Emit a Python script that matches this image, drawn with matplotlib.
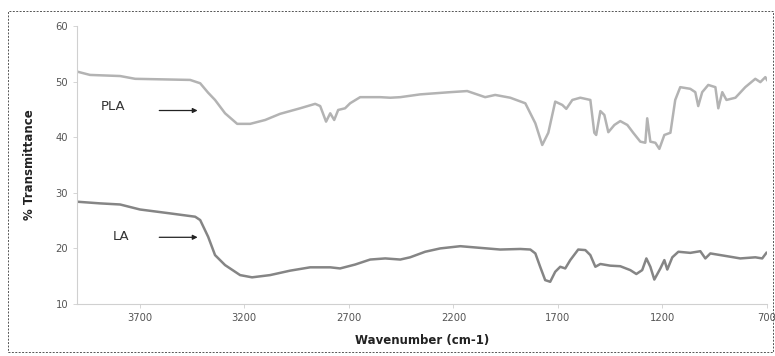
import matplotlib.pyplot as plt
from matplotlib.patches import Rectangle

# FTIR spectra (wavenumber in cm-1, % transmittance)
pla_wn = [4000, 3938, 3794, 3722, 3459, 3411, 3373, 3340, 3292, 3234, 3172, 3100,
          3029, 2933, 2861, 2837, 2809, 2789, 2770, 2751, 2718, 2694, 2646, 2550,
          2502, 2454, 2359, 2215, 2134, 2048, 2000, 1928, 1856, 1808, 1775, 1746,
          1713, 1679, 1660, 1631, 1593, 1545, 1526, 1517, 1497, 1478, 1459, 1430,
          1402, 1368, 1340, 1306, 1282, 1273, 1258, 1234, 1215, 1191, 1162, 1139,
          1115, 1067, 1043, 1029, 1010, 981, 947, 933, 914, 894, 851, 804, 756,
          732, 708, 700]
pla_t = [51.8, 51.2, 51.0, 50.5, 50.3, 49.7, 48.0, 46.7, 44.3, 42.4, 42.4, 43.1,
         44.2, 45.2, 46.0, 45.6, 42.8, 44.3, 43.1, 44.9, 45.2, 46.1, 47.2, 47.2,
         47.1, 47.2, 47.7, 48.1, 48.3, 47.2, 47.6, 47.1, 46.1, 42.5, 38.6, 40.8,
         46.4, 45.8, 45.1, 46.7, 47.1, 46.7, 40.8, 40.4, 44.7, 44.0, 40.9, 42.2,
         42.9, 42.2, 40.8, 39.2, 39.0, 43.4, 39.2, 39.0, 37.9, 40.4, 40.8, 46.7,
         49.0, 48.7, 48.1, 45.6, 48.1, 49.4, 49.0, 45.2, 48.1, 46.7, 47.1, 49.0, 50.5,
         49.9, 50.8, 50.3]

la_wn = [4000, 3890, 3794, 3699, 3555, 3435, 3411, 3373, 3340, 3292, 3220, 3163,
         3077, 2981, 2885, 2789, 2742, 2670, 2598, 2526, 2454, 2407, 2335, 2263,
         2167, 2072, 1976, 1880, 1832, 1808, 1785, 1761, 1737, 1713, 1689, 1665,
         1641, 1603, 1569, 1545, 1521, 1497, 1450, 1402, 1354, 1325, 1297, 1277,
         1258, 1239, 1210, 1191, 1177, 1153, 1124, 1067, 1019, 995, 971, 923, 875,
         828, 756, 723, 703]
la_t = [28.4, 28.1, 27.9, 27.0, 26.3, 25.7, 25.1, 22.1, 18.8, 17.0, 15.2, 14.8,
        15.2, 16.0, 16.6, 16.6, 16.4, 17.1, 18.0, 18.2, 18.0, 18.4, 19.4, 20.0,
        20.4, 20.1, 19.8, 19.9, 19.8, 19.1, 16.7, 14.3, 14.0, 15.8, 16.7, 16.4,
        17.9, 19.8, 19.7, 18.8, 16.7, 17.2, 16.9, 16.8, 16.1, 15.4, 16.1, 18.2,
        16.7, 14.4, 16.4, 17.9, 16.2, 18.4, 19.4, 19.2, 19.5, 18.2, 19.1, 18.8,
        18.5, 18.2, 18.4, 18.2, 19.2]

x_ticks = [3700, 3200, 2700, 2200, 1700, 1200, 700]
y_ticks = [10, 20, 30, 40, 50, 60]

fig = plt.figure(figsize=(7.75, 3.56), dpi=100)
ax = fig.add_axes([0.0994, 0.146, 0.8903, 0.781])

ax.plot(pla_wn, pla_t, color='#b3b3b3', linewidth=1.8)
ax.plot(la_wn, la_t, color='#858585', linewidth=1.8)

ax.set_xlim(4000, 700)
ax.set_ylim(10, 60)
ax.set_xticks(x_ticks)
ax.set_yticks(y_ticks)
ax.tick_params(labelsize=7.2, colors='#cfcfcf', labelcolor='#555555', length=3, width=0.6)

for side in ['top', 'right']:
    ax.spines[side].set_visible(False)
for side in ['left', 'bottom']:
    ax.spines[side].set_color('#d0d0d0')
    ax.spines[side].set_linewidth(0.8)

ax.set_xlabel('Wavenumber (cm-1)', fontsize=8.5, fontweight='bold', color='#222222', labelpad=8)
ax.set_ylabel('% Transmittance', fontsize=8.5, fontweight='bold', color='#222222', labelpad=14)

# labels with arrows
ax.annotate('', xy=(3410, 44.8), xytext=(3620, 44.8),
            arrowprops=dict(arrowstyle='-|>', color='#222222', lw=0.9, mutation_scale=7))
ax.text(3830, 45.5, 'PLA', fontsize=9.5, color='#333333', ha='center', va='center')
ax.annotate('', xy=(3410, 22.0), xytext=(3620, 22.0),
            arrowprops=dict(arrowstyle='-|>', color='#222222', lw=0.9, mutation_scale=7))
ax.text(3790, 22.2, 'LA', fontsize=9.5, color='#333333', ha='center', va='center')

# dashed outer frame
fig.patches.append(Rectangle((0.010, 0.011), 0.987, 0.958, transform=fig.transFigure,
                             fill=False, edgecolor='#555555', linewidth=0.7,
                             linestyle=(0, (2, 1.5))))

fig.savefig('out.png', dpi=100)
